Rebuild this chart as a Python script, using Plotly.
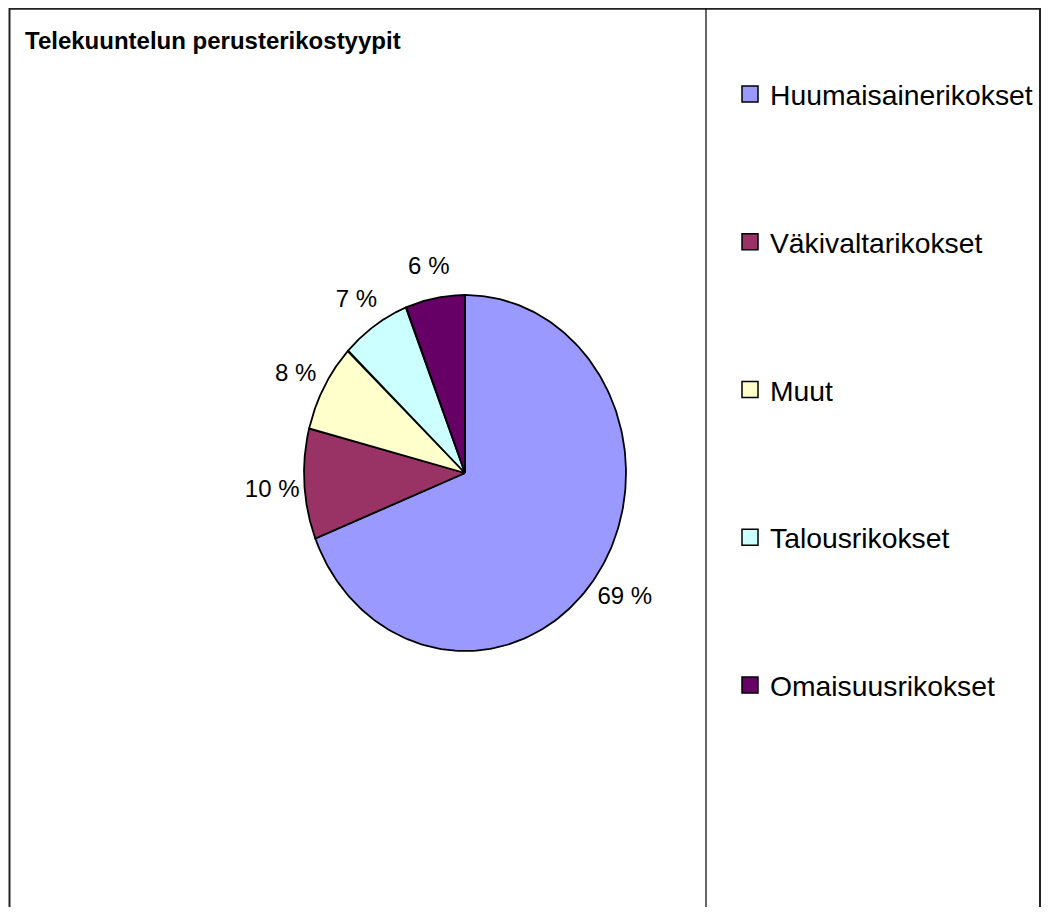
import numpy as np
import plotly.graph_objects as go

# ---- data ----
categories = ["Huumaisainerikokset", "Väkivaltarikokset", "Muut", "Talousrikokset", "Omaisuusrikokset"]
values = [69, 10, 8, 7, 6]
label_texts = ["69 %", "10 %", "8 %", "7 %", "6 %"]
colors = ["#9999FF", "#993366", "#FFFFCC", "#CCFFFF", "#660066"]
title_text = "Telekuuntelun perusterikostyypit"

# ---- layout geometry (pixels, figure coordinates) ----
W, H = 1033, 899
cx, cy = 457, 465        # pie centre
rx, ry = 161, 178        # pie radii
label_r = 1.2            # label distance (relative to radius)
label_dy_px = 5          # labels sit slightly lower

FONT = "Arial, Liberation Sans, sans-serif"

fig = go.Figure()

vals = np.array(values, dtype=float)
frac = vals / vals.sum()
ends = np.cumsum(frac)
starts = ends - frac

for i, cat in enumerate(categories):
    th = np.linspace(starts[i], ends[i], 200) * 2 * np.pi
    xs = np.concatenate([[0], np.sin(th), [0]])
    ys = np.concatenate([[0], np.cos(th), [0]])
    fig.add_trace(go.Scatter(
        x=xs, y=ys, mode="lines", fill="toself", fillcolor=colors[i],
        line=dict(color="black", width=1.8), showlegend=False, hoverinfo="skip",
    ))

mids = (starts + ends) / 2 * 2 * np.pi
fig.add_trace(go.Scatter(
    x=label_r * np.sin(mids),
    y=label_r * np.cos(mids) - label_dy_px / ry,
    mode="text", text=label_texts, textposition="middle center",
    textfont=dict(family=FONT, size=24, color="black"),
    showlegend=False, hoverinfo="skip", cliponaxis=False,
))

# legend entries
for i, cat in enumerate(categories):
    fig.add_trace(go.Scatter(
        x=[None], y=[None], mode="markers", name=cat, legendgroup=cat,
        marker=dict(symbol="square", size=16, color=colors[i],
                    line=dict(color="black", width=1.5)),
    ))

fig.update_layout(
    width=W, height=H,
    margin=dict(l=0, r=0, t=0, b=0),
    paper_bgcolor="white", plot_bgcolor="white",
    xaxis=dict(visible=False, domain=[0, 1],
               range=[(0 - cx) / rx, (W - cx) / rx], fixedrange=True),
    yaxis=dict(visible=False, domain=[0, 1],
               range=[(cy - H) / ry, cy / ry], fixedrange=True),
    legend=dict(
        x=722 / W, y=1 - 61 / H, xanchor="left", yanchor="top",
        font=dict(family=FONT, size=28.3, color="black"),
        tracegroupgap=108, itemwidth=30, bgcolor="rgba(0,0,0,0)",
        borderwidth=0,
    ),
    showlegend=True,
    annotations=[dict(
        text="<b>" + title_text + "</b>", xref="paper", yref="paper",
        x=15 / W, y=1 - 33 / H, xanchor="left", yanchor="middle",
        showarrow=False, font=dict(family=FONT, size=24, color="black"),
    )],
    shapes=[
        dict(type="rect", xref="paper", yref="paper",
             x0=1.5 / W, x1=1032 / W, y0=-0.05, y1=1 - 0.75 / H,
             line=dict(color="#222222", width=2)),
        dict(type="line", xref="paper", yref="paper",
             x0=698 / W, x1=698 / W, y0=-0.05, y1=1 - 0.75 / H,
             line=dict(color="black", width=1.2)),
    ],
)

fig.write_html("out.html")
